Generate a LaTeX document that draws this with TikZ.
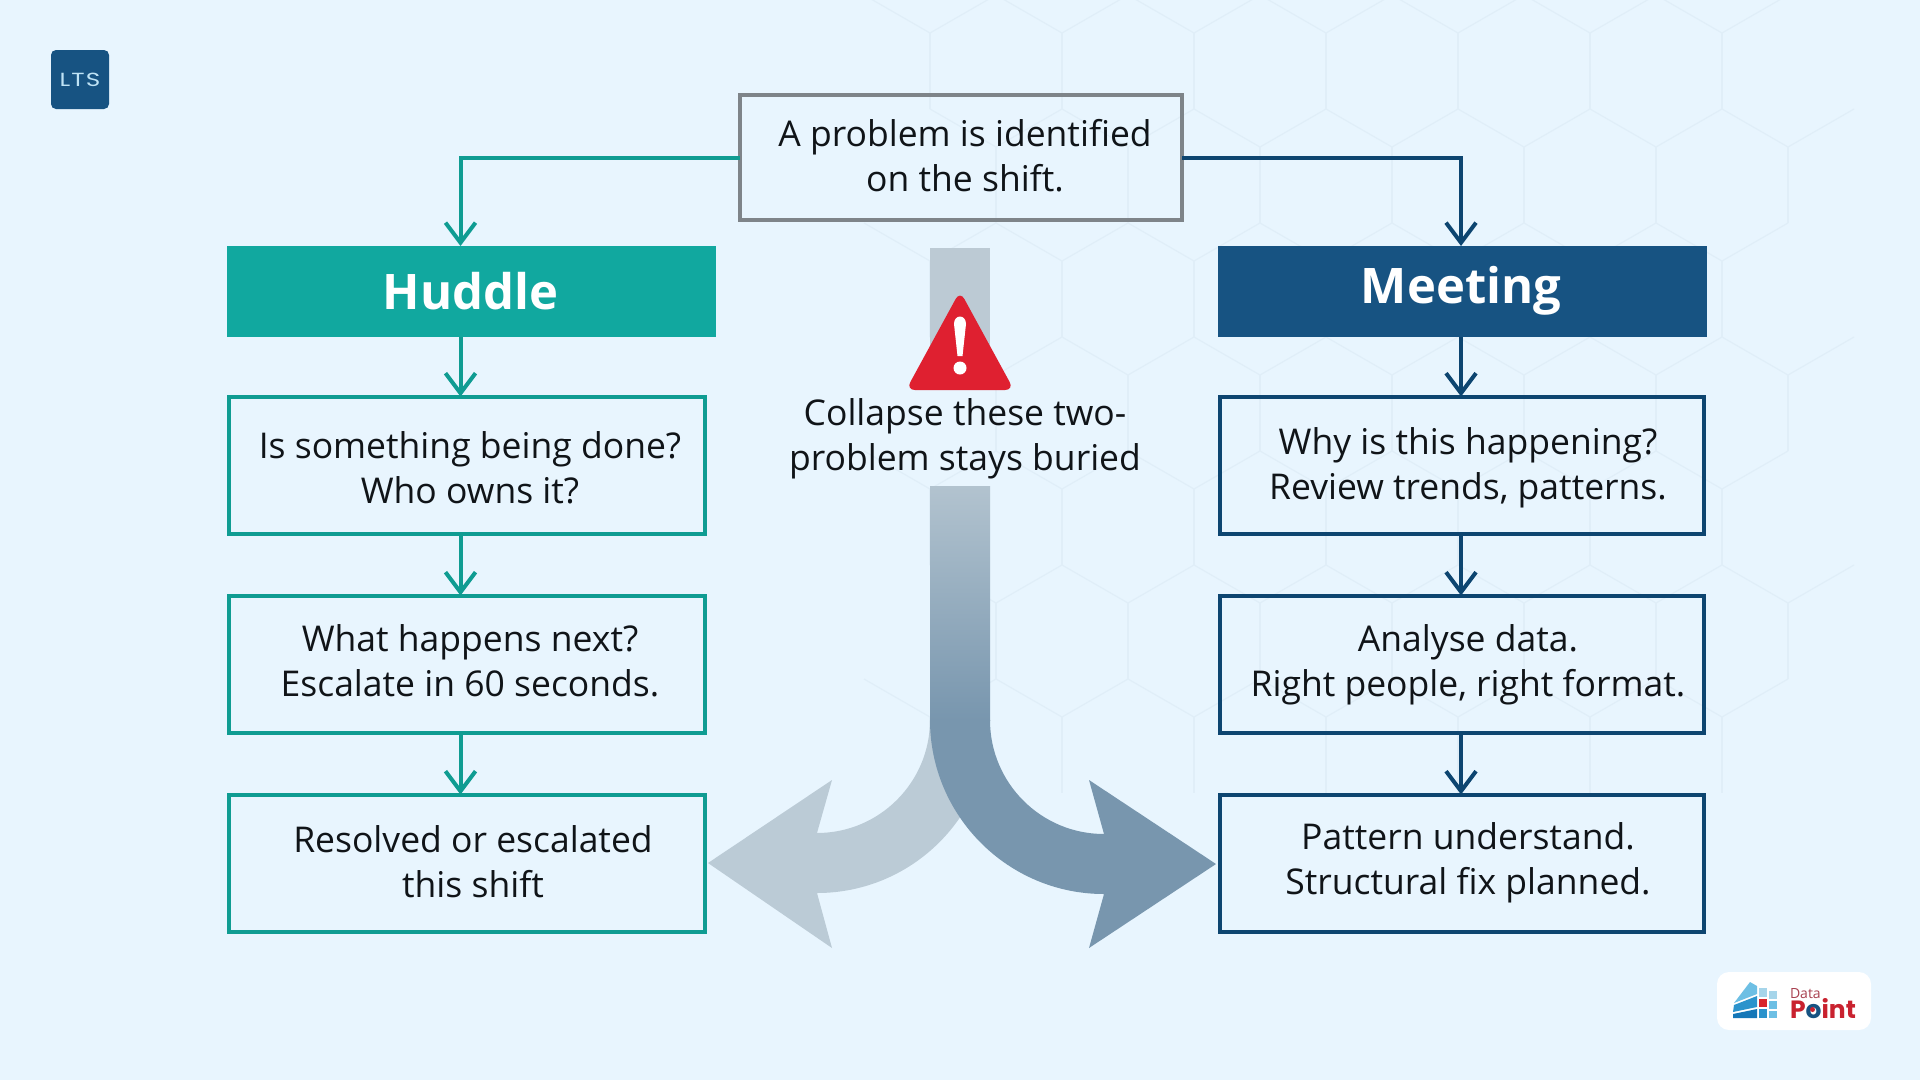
\documentclass[tikz,border=0pt]{standalone}
\usepackage{fontspec}
\setmainfont{Open Sans}
\newfontfamily\ltsfont[LetterSpace=6,FakeStretch=1.3]{Poppins}
\newfontfamily\logofont{Poppins}
\usetikzlibrary{positioning}
\usetikzlibrary{arrows.meta}
\definecolor{bgcol}{HTML}{E8F5FE}
\definecolor{hexcol}{HTML}{E0EEF8}
\definecolor{hudcol}{HTML}{11A89F}
\definecolor{hudline}{HTML}{0F9C92}
\definecolor{meetcol}{HTML}{175382}
\definecolor{meetline}{HTML}{0D4570}
\definecolor{topline}{HTML}{7E8489}
\definecolor{txtcol}{HTML}{101418}
\definecolor{warncol}{HTML}{DF2030}
\definecolor{pointcol}{HTML}{C9222F}
\definecolor{barpale}{HTML}{BCCAD4}
\definecolor{barmid}{HTML}{B2C3CF}
\definecolor{arrowpale}{HTML}{BBCBD6}
\definecolor{arrowdark}{HTML}{7896AE}
\definecolor{ltstxtcol}{HTML}{BFE3F5}
\definecolor{datacol}{HTML}{A8404F}
\definecolor{blockpale}{HTML}{A6D5EA}
\definecolor{blocklight}{HTML}{6DBFE4}
\definecolor{blockmid}{HTML}{2B93CC}
\definecolor{blockdark}{HTML}{1477B8}
\definecolor{blockred}{HTML}{D8262C}
\tikzset{x=1pt,y=-1pt,
    every node/.style={outer sep=0pt,inner sep=0pt},
    hexline/.style={draw=hexcol,line width=1.2pt},
    flowbox/.style={draw,line width=4pt,minimum height=137pt},
    hudbox/.style={flowbox,draw=hudline,minimum width=476pt},
    meetbox/.style={flowbox,draw=meetline,minimum width=484pt},
    headbox/.style={minimum height=91pt,text=white,font=\fontsize{49}{58}\selectfont\bfseries},
    txt/.style={align=center,text=txtcol,font=\fontsize{35.5}{45}\selectfont},
    link/.style={line width=4pt,-{Straight Barb[length=20pt,width=30pt,line width=4pt]}},
    hudlink/.style={link,draw=hudline},
    meetlink/.style={link,draw=meetline}}

\begin{document}
\begin{tikzpicture}
        \useasboundingbox (0,0) rectangle (1920,1080);
        \fill[bgcol] (0,0) rectangle (1920,1080);

        % faint honeycomb behind everything
        \foreach \r in {0,...,6}
            \foreach \c in {0,...,6} {
                \pgfmathsetmacro{\hx}{930+132*\c+66*mod(\r,2)}
                \pgfmathsetmacro{\hy}{33+114*\r}
                \draw[hexline] (\hx-66,\hy-38) -- (\hx,\hy) -- (\hx+66,\hy-38);
                \draw[hexline] (\hx,\hy) -- (\hx,\hy+76);
            }

        % boxes
        \node[draw=topline,line width=4pt,minimum width=442pt,minimum height=125pt] (top) at (961,157.5) {};
        \node[headbox,fill=hudcol,minimum width=489pt] (huddle) at (471.5,291.5) {};
        \node[hudbox,below=59.5pt of huddle,xshift=-4.5pt] (hud1) {};
        \node[hudbox,below=62pt of hud1] (hud2) {};
        \node[hudbox,below=62pt of hud2] (hud3) {};
        \node[headbox,fill=meetcol,minimum width=489pt] (meeting) at (1462.5,291.5) {};
        \node[meetbox,below=59.5pt of meeting,xshift=-0.5pt] (meet1) {};
        \node[meetbox,below=62pt of meet1] (meet2) {};
        \node[meetbox,below=62pt of meet2] (meet3) {};

        % texts sit a little off the box centres
        \node[txt] (toptxt) at (965,155.5) {A problem is identified\\on the shift.};
        \node[headbox,minimum height=0pt] (hudtxt) at (470.5,291) {Huddle};
        \node[headbox,minimum height=0pt] (meettxt) at (1461,291) {Meeting};
        \node[txt] (hud1txt) at (470,467.5) {Is something being done?\\Who owns it?};
        \node[txt] (hud2txt) at (470,661) {What happens next?\\Escalate in 60 seconds.};
        \node[txt] (hud3txt) at (473,862) {Resolved or escalated\\this shift};
        \node[txt] (meet1txt) at (1468,467.5) {Why is this happening?\\Review trends, patterns.};
        \node[txt] (meet2txt) at (1468,664.5) {Analyse data.\\Right people, right format.};
        \node[txt] (meet3txt) at (1468,863) {Pattern understand.\\Structural fix planned.};
        \node[txt] (warntxt) at (965,439) {Collapse these two-\\problem stays buried};

        % connectors
        \coordinate (hudlane) at (460.5,0);
        \coordinate (meetlane) at (1461,0);
        \draw[hudlink] (top.west) -| (huddle.north -| hudlane);
        \draw[hudlink] (huddle.south -| hudlane) -- (hud1.north -| hudlane);
        \draw[hudlink] (hud1.south -| hudlane) -- (hud2.north -| hudlane);
        \draw[hudlink] (hud2.south -| hudlane) -- (hud3.north -| hudlane);
        \draw[meetlink] (top.east) -| (meeting.north -| meetlane);
        \draw[meetlink] (meeting.south -| meetlane) -- (meet1.north -| meetlane);
        \draw[meetlink] (meet1.south -| meetlane) -- (meet2.north -| meetlane);
        \draw[meetlink] (meet2.south -| meetlane) -- (meet3.north -| meetlane);

        % the splitting arrow
        \fill[barpale] (930,248) rectangle (990,375);
        \fill[arrowpale] (930,720) .. controls (930,782.4) and (879.4,833) .. (817,833)
            -- (832,780) -- (708,863) -- (832,948) -- (817,893)
            .. controls (912.5,893) and (990,815.5) .. (990,720) -- cycle;
        \fill[top color=barmid,bottom color=arrowdark] (930,486) rectangle (990,720);
        \fill[arrowdark] (990,720) .. controls (990,783) and (1041,834) .. (1104,834)
            -- (1089,780) -- (1216,864) -- (1089,948) -- (1104,894)
            .. controls (1008,894) and (930,816) .. (930,720) -- cycle;

        % warning sign
        \fill[warncol,rounded corners=9pt] (960,291) -- (1014,390) -- (906,390) -- cycle;
        \fill[white] (954,324) .. controls (954,314) and (966,314) .. (966,324)
            -- (962.5,356) -- (957.5,356) -- cycle;
        \fill[white] (960,368) circle (6.5);

        % LTS badge
        \node[fill=meetcol,rounded corners=5pt,minimum width=58pt,minimum height=59pt] (ltsbadge) at (80,79.5) {};
        \node[text=ltstxtcol,font=\ltsfont\fontsize{19}{22}\selectfont] (ltstxt) at (80,80) {LTS};

        % Data Point badge
        \node[fill=white,rounded corners=12pt,minimum width=154pt,minimum height=58pt] (dpbadge) at (1794,1001) {};
        \fill[blocklight] (1750,982) -- (1757,986) -- (1757,994) -- (1734,1003) -- cycle;
        \fill[blockmid] (1757,996) -- (1757,1007) -- (1733,1012) -- (1734,1005) -- cycle;
        \fill[blockdark] (1757,1009) -- (1757,1018) -- (1733,1018) -- (1733,1014) -- cycle;
        \fill[blockpale] (1759,988) rectangle (1767,997);
        \fill[blockpale] (1769,991) rectangle (1777,999);
        \fill[blockred] (1759,999) rectangle (1767,1007);
        \fill[blocklight] (1769,1001) rectangle (1777,1009);
        \fill[blockmid] (1759,1009) rectangle (1767,1018);
        \fill[blocklight] (1769,1011) rectangle (1777,1018);
        \node[anchor=base west,text=datacol,font=\fontsize{14}{16}\selectfont] (dptxt) at (1790,998) {Data};
        \node[anchor=base west,text=pointcol,font=\logofont\fontsize{25}{28}\selectfont\bfseries] (pointtxt) at (1790,1018) {P{\color{meetcol}o}int};
        \fill[pointcol] (1812.5,1009.5) circle (2.5);
\end{tikzpicture}
\end{document}
